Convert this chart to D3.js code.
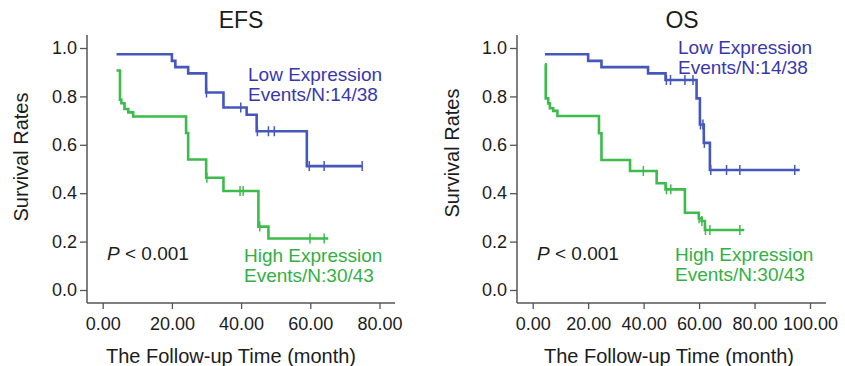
<!DOCTYPE html>
<html>
<head>
<meta charset="utf-8">
<script src="https://cdn.jsdelivr.net/npm/d3@7"></script>
<style>
  body { margin: 0; background: #fff; }
  svg { display: block; font-family: "Liberation Sans", Arial, sans-serif; }
</style>
</head>
<body>
<svg id="chart" width="845" height="366"></svg>
<script>
// --- data: [month, survival after step] ---
const efsLowStart = [4.0, 0.974];
const efsLowSteps = [[20, 0.947], [21, 0.921], [24.7, 0.895], [29.9, 0.816], [34.9, 0.754], [41.6, 0.724], [44.5, 0.656], [59, 0.512]];
const efsLowEnd = 75;
const efsLowCensor = [30.0, 39.9, 44.7, 47.9, 49.6, 59.7, 64, 75];

const efsHighStart = [4.0, 0.907];
const efsHighSteps = [[5.0, 0.786], [5.4, 0.772], [6.3, 0.748], [7.4, 0.734], [8.8, 0.717], [24.1, 0.649], [24.7, 0.539], [29.9, 0.464], [34.9, 0.409], [45, 0.262], [47.9, 0.213]];
const efsHighEnd = 65.2;
const efsHighCensor = [30.1, 39.7, 40.6, 45.4, 59.9, 64.0];

const osLowStart = [4.4, 0.974];
const osLowSteps = [[20, 0.947], [24.8, 0.921], [41.6, 0.895], [47.9, 0.868], [59.1, 0.792], [60.3, 0.684], [61.7, 0.608], [63.9, 0.496]];
const osLowEnd = 96.3;
const osLowCensor = [48.2, 49.7, 54.9, 57.8, 60.5, 61.4, 61.9, 64.2, 69.9, 74.7, 94.5];

const osHighStart = [4.4, 0.933];
const osHighSteps = [[4.7, 0.792], [5.6, 0.771], [6.2, 0.751], [7.4, 0.740], [8.9, 0.719], [23.9, 0.648], [24.8, 0.537], [35.1, 0.492], [44.7, 0.441], [47.9, 0.416], [54.9, 0.319], [59.9, 0.296], [60.9, 0.285], [62.1, 0.248]];
const osHighEnd = 76.3;
const osHighCensor = [39.9, 48.2, 49.8, 60.0, 61.0, 62.3, 63.9, 74.7];

const yTicks = [0, 0.2, 0.4, 0.6, 0.8, 1.0];
const efsXTicks = [0, 20, 40, 60, 80];
const osXTicks = [0, 20, 40, 60, 80, 100];

const lowLabel = ["Low Expression", "Events/N:14/38"];
const highLabel = ["High Expression", "Events/N:30/43"];
const pLabel = "< 0.001";

const blue = "#4657bb", green = "#3dbb4b";
const blueText = "#3838ae", greenText = "#32b043";
const ink = "#1c1c1c";

const svg = d3.select("#chart");

// step function value at time t
function survAt(start, steps, t) {
    let s = start[1];
    steps.forEach(d => { if (d[0] <= t) s = d[1]; });
    return s;
}

function drawPanel(cfg) {
    const g = svg.append("g");
    const x = d3.scaleLinear().domain(cfg.xDomain).range(cfg.xRange);
    const y = d3.scaleLinear().domain([0, 1]).range([290, 48]);

    // axes lines
    g.append("line").attr("x1", cfg.axisX).attr("x2", cfg.axisX).attr("y1", 35).attr("y2", 303)
        .attr("stroke", "#555").attr("stroke-width", 1.5);
    g.append("line").attr("x1", cfg.axisX).attr("x2", cfg.axisEnd).attr("y1", 303).attr("y2", 303)
        .attr("stroke", "#555").attr("stroke-width", 1.5);

    const yAxis = g.append("g").attr("transform", `translate(${cfg.axisX},0)`)
        .call(d3.axisLeft(y).tickValues(yTicks).tickFormat(d3.format(".1f")).tickSize(7).tickPadding(3));
    const xAxis = g.append("g").attr("transform", `translate(0,303)`)
        .call(d3.axisBottom(x).tickValues(cfg.xTicks).tickFormat(d3.format(".2f")).tickSize(6).tickPadding(8));
    [yAxis, xAxis].forEach(a => {
        a.select(".domain").remove();
        a.selectAll(".tick line").attr("stroke", "#555").attr("stroke-width", 1.3);
        a.selectAll(".tick text").attr("fill", ink).style("font-size", "18px")
            .style("font-family", "Liberation Sans, Arial, sans-serif");
    });

    // title and axis labels
    g.append("text").attr("x", cfg.titleX).attr("y", 28).attr("text-anchor", "middle")
        .attr("fill", ink).style("font-size", "23px").text(cfg.title);
    g.append("text").attr("transform", `translate(${cfg.yLabelX},${cfg.yLabelY}) rotate(-90)`)
        .attr("text-anchor", "middle").attr("fill", ink).style("font-size", "20px").text("Survival Rates");
    g.append("text").attr("x", cfg.xLabelX).attr("y", 363).attr("text-anchor", "middle")
        .attr("fill", ink).style("font-size", "20px").text("The Follow-up Time (month)");

    // curves
    cfg.curves.forEach(c => {
        const pts = [c.start];
        let s = c.start[1];
        c.steps.forEach(d => { pts.push([d[0], s]); pts.push(d); s = d[1]; });
        pts.push([c.end, s]);
        g.append("path").datum(pts)
            .attr("d", d3.line().x(d => x(d[0])).y(d => y(d[1])))
            .attr("fill", "none").attr("stroke", c.color).attr("stroke-width", 2.6)
            .attr("stroke-linejoin", "miter");
        g.selectAll(null).data(c.censor).join("line")
            .attr("x1", d => x(d)).attr("x2", d => x(d))
            .attr("y1", d => y(survAt(c.start, c.steps, d)) - 5)
            .attr("y2", d => y(survAt(c.start, c.steps, d)) + 5)
            .attr("stroke", c.color).attr("stroke-width", 1.5);
    });

    // legend texts
    const lo = g.append("text").attr("fill", blueText).style("font-size", "19px");
    lo.selectAll("tspan").data(lowLabel).join("tspan")
        .attr("x", cfg.lowPos[0]).attr("y", (d, i) => cfg.lowPos[1] + i * 20).text(d => d);
    const hi = g.append("text").attr("fill", greenText).style("font-size", "19px");
    hi.selectAll("tspan").data(highLabel).join("tspan")
        .attr("x", cfg.highPos[0]).attr("y", (d, i) => cfg.highPos[1] + i * 19.5).text(d => d);

    const p = g.append("text").attr("x", cfg.pPos[0]).attr("y", cfg.pPos[1])
        .attr("fill", ink).style("font-size", "19px");
    p.append("tspan").style("font-style", "italic").text("P");
    p.append("tspan").text(" " + pLabel);
}

drawPanel({
    title: "EFS", titleX: 241,
    xDomain: [0, 80], xRange: [102.7, 379.5], xTicks: efsXTicks,
    axisX: 87, axisEnd: 395,
    yLabelX: 28, yLabelY: 157, xLabelX: 231,
    lowPos: [248, 81], highPos: [244, 262], pPos: [107, 260],
    curves: [
        { start: efsLowStart, steps: efsLowSteps, end: efsLowEnd, censor: efsLowCensor, color: blue },
        { start: efsHighStart, steps: efsHighSteps, end: efsHighEnd, censor: efsHighCensor, color: green }
    ]
});

drawPanel({
    title: "OS", titleX: 682,
    xDomain: [0, 100], xRange: [532.7, 810], xTicks: osXTicks,
    axisX: 517, axisEnd: 826,
    yLabelX: 459, yLabelY: 153, xLabelX: 669,
    lowPos: [678, 54], highPos: [675, 261], pPos: [537, 260],
    curves: [
        { start: osLowStart, steps: osLowSteps, end: osLowEnd, censor: osLowCensor, color: blue },
        { start: osHighStart, steps: osHighSteps, end: osHighEnd, censor: osHighCensor, color: green }
    ]
});
</script>
</body>
</html>
